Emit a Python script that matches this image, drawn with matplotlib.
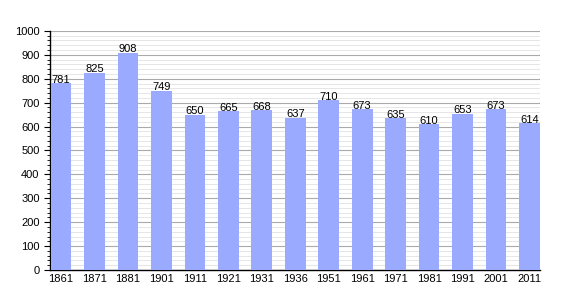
import numpy as np
import matplotlib.pyplot as plt
from matplotlib.ticker import MultipleLocator

plt.rcParams['font.family'] = ['Liberation Sans', 'DejaVu Sans']

years = ['1861', '1871', '1881', '1901', '1911', '1921', '1931', '1936',
         '1951', '1961', '1971', '1981', '1991', '2001', '2011']
population = [781, 825, 908, 749, 650, 665, 668, 637, 710, 673, 635, 610, 653, 673, 614]

fig = plt.figure(figsize=(5.7, 3.0), dpi=100)
ax = fig.add_axes([0.0877, 0.1, 0.86, 0.797])

x = np.arange(len(years))
ax.bar(x, population, width=0.62, color='#99aaff', zorder=3)
for xi, v in zip(x, population):
    ax.text(xi, v + 2, str(v), ha='center', va='baseline', fontsize=8,
            color='black', zorder=4)

ax.set_xlim(-0.33, len(years) - 0.68)
ax.set_ylim(0, 1000)
ax.set_xticks(x)
ax.set_xticklabels(years, fontsize=8)
ax.yaxis.set_major_locator(MultipleLocator(100))
ax.yaxis.set_minor_locator(MultipleLocator(20))
ax.tick_params(axis='y', which='major', labelsize=8, length=4, width=0.8)
ax.tick_params(axis='y', which='minor', length=2, width=0.6)
ax.tick_params(axis='x', length=0, pad=3)

ax.grid(axis='y', which='major', color='#aaaaaa', linewidth=0.8, zorder=0)
ax.grid(axis='y', which='minor', color='#e2e2e2', linewidth=0.6, zorder=0)

for s in ['top', 'right']:
    ax.spines[s].set_visible(False)
ax.spines['left'].set_linewidth(1.0)
ax.spines['bottom'].set_linewidth(1.0)

fig.savefig('out.png', dpi=100)
